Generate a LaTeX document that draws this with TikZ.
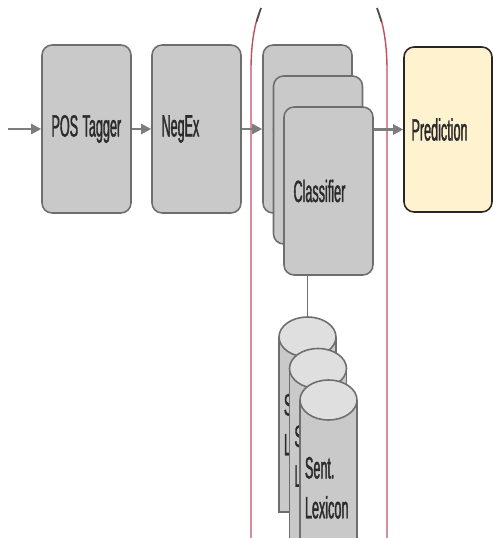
\documentclass[tikz,border=0pt]{standalone}
\usepackage{fontspec}
\usetikzlibrary{arrows.meta,positioning,shapes.geometric,backgrounds}
\newfontfamily\narrowsans[FakeStretch=0.41,FakeBold=1.2]{Liberation Sans}
\definecolor{BoxFill}{HTML}{C9C9C9}
\definecolor{BoxLine}{HTML}{6E6E6E}
\definecolor{PredFill}{HTML}{FFF3CF}
\definecolor{Ink}{HTML}{2B2B2B}
\definecolor{Bracket}{HTML}{C0505E}
\tikzset{
  stage/.style={draw=BoxLine,fill=BoxFill,line width=0.9pt,rounded corners=0.2cm,minimum width=1.78cm,minimum height=3.36cm,inner xsep=0.19cm,text width=1.40cm,align=left,font=\narrowsans\fontsize{17.5}{19}\selectfont,text=Ink},
  flow/.style={draw=BoxLine!90,line width=1.3pt,-{Triangle[length=0.2cm,width=0.2cm]}},
  drum/.style={draw=BoxLine,fill=BoxFill,line width=0.9pt,minimum width=1.14cm,minimum height=3.48cm,inner xsep=0.1cm,text width=0.94cm,align=left,anchor=north,font=\narrowsans\fontsize{17.5}{22.7}\selectfont,text=Ink},
  drumtop/.style={ellipse,draw=BoxLine,fill=BoxFill!60,line width=0.9pt,minimum width=1.14cm,minimum height=0.8cm,inner sep=0pt}
}

\begin{document}
\begin{tikzpicture}[x=0.02cm,y=-0.02cm]
\useasboundingbox (0,0) rectangle (493,538);
\clip (0,0) rectangle (493,538);
% brackets round the classifier stage
\draw[Bracket,line width=0.8pt] (261,8) .. controls (255,22) and (251,42) .. (251,70) -- (251,545);
\draw[Bracket,line width=0.8pt] (377,8) .. controls (383,22) and (387,42) .. (387,70) -- (387,545);
\draw[black!70,line width=0.9pt] (261,8) .. controls (258,15) .. (256.5,22);
\draw[black!70,line width=0.9pt] (377,8) .. controls (380,15) .. (381.5,22);
\coordinate (src) at (8,129);
\node[stage] (pos) at (86.5,129) {\mbox{POS\kern0.09cm Tagger}};
\node[stage] (neg) at (196.5,129) {NegEx};
\foreach \i in {1,2,3} {\node[stage] (cls\i) at ({297+10.5*\i},{98+31*\i}) {Classifier};}
\node[stage,fill=PredFill,draw=black!85,minimum width=1.76cm,minimum height=3.30cm,text width=1.46cm,inner xsep=0.15cm] (pred) at (448,129.5) {Prediction};
\foreach \i in {1,2,3} {\node[drum] (lex\i) at ({297+10.5*\i},{305.5+31.5*\i}) {Sent.\\Lexicon}; \node[drumtop] (lex\i top) at (lex\i.north) {};}
\begin{scope}[on background layer]
\draw[BoxLine,line width=0.6pt] (cls1.south) -- (lex1top.north);
\end{scope}
\draw[flow] (src) -- (pos.west);
\draw[flow] (pos.east) -- (neg.west);
\draw[flow] (neg.east) -- (cls1.west);
\draw[flow] (cls3.east |- pred.west) -- (pred.west);
\end{tikzpicture}
\end{document}
